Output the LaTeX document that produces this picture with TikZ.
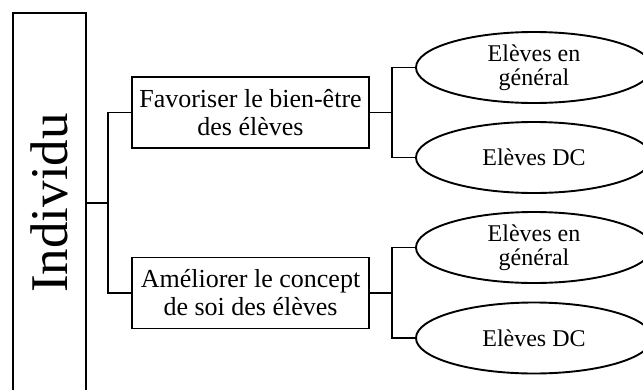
\documentclass[tikz,border=0pt]{standalone}
\usepackage{fontspec}
\setmainfont{Liberation Serif}
\usetikzlibrary{shapes.geometric}

\begin{document}
\begin{tikzpicture}[x=1pt,y=-1pt,line width=1.9pt,
  objectif/.style={draw,rectangle,minimum width=237pt,minimum height=71pt,
    inner sep=0pt,align=center,font=\fontsize{26}{28}\selectfont},
  cible/.style={draw,ellipse,minimum width=236pt,minimum height=71pt,
    inner sep=0pt,align=center,font=\fontsize{24}{24}\selectfont}]
  \useasboundingbox (0,0) rectangle (643,389);
  \clip (0,0) rectangle (643,389);

  % Level
  \node[draw,minimum width=73pt,minimum height=380pt,inner sep=0pt,
    font=\fontsize{53}{60}\selectfont] (ind) at (49.5,203) {\rotatebox{90}{Individu}};

  % Goals
  \node[objectif] (fav) at (250.5,112.5) {Favoriser le bien-être\\des élèves};
  \node[objectif] (ame) at (250.5,293) {Améliorer le concept\\de soi des élèves};

  % Target pupils
  \node[cible] (fav1) at (534,67.5) {Elèves en\\général};
  \node[cible] (fav2) at (534,157.5) {Elèves DC};
  \node[cible] (ame1) at (534,247.5) {Elèves en\\général};
  \node[cible] (ame2) at (534,338) {Elèves DC};

  % Branches
  \coordinate (j0) at (108,203);
  \coordinate (j1) at (392,112.5);
  \coordinate (j2) at (392,293);
  \draw (ind.east) -- (j0);
  \draw (j0) |- (fav.west);
  \draw (j0) |- (ame.west);
  \draw (fav.east) -- (j1);
  \draw (j1) |- (fav1.west);
  \draw (j1) |- (fav2.west);
  \draw (ame.east) -- (j2);
  \draw (j2) |- (ame1.west);
  \draw (j2) |- (ame2.west);
\end{tikzpicture}
\end{document}
